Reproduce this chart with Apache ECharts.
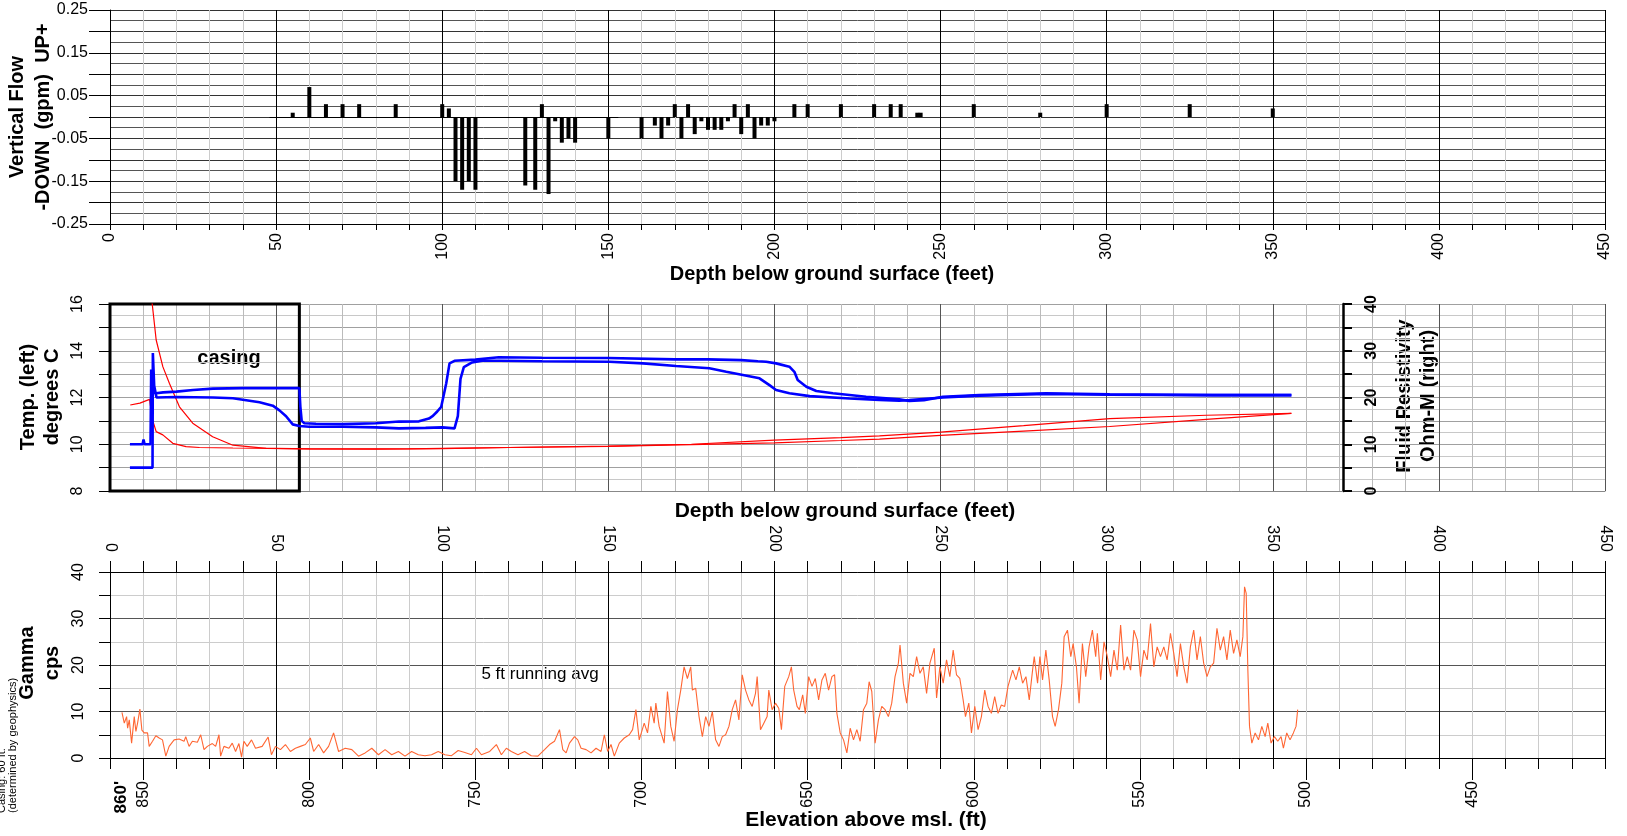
<!DOCTYPE html>
<html><head><meta charset="utf-8">
<script src="https://cdn.jsdelivr.net/npm/echarts@6/dist/echarts.min.js"></script>
<style>html,body{margin:0;padding:0;background:#fff}#c{width:1627px;height:836px}</style>
</head><body><div id="c"></div><script>
// ---------- DATA ----------
const depthRange = [0, 450];
// Vertical flow (gpm), + up / - down
const flowDepth = [55,60,65,70,75,86,100,102,104,106,108,110,125,128,130,132,134,136,138,140,150,160,164,166,168,170,172,174,176,178,180,182,184,186,188,190,192,194,196,198,200,206,210,220,230,235,238,243,244,260,280,300,325,350];
const flowGpm = [0.01,0.07,0.03,0.03,0.03,0.03,0.03,0.02,-0.15,-0.17,-0.15,-0.17,-0.16,-0.17,0.03,-0.18,-0.01,-0.06,-0.05,-0.06,-0.05,-0.05,-0.02,-0.05,-0.02,0.03,-0.05,0.03,-0.04,-0.01,-0.03,-0.03,-0.03,-0.01,0.03,-0.04,0.03,-0.05,-0.02,-0.02,-0.01,0.03,0.03,0.03,0.03,0.03,0.03,0.01,0.01,0.03,0.01,0.03,0.03,0.02];
// Temperature (deg C) - two logs
const temp1Depth = [6,8,9.8,10.1,10.4,12.2,12.4,12.6,13.2,13.9,16,20,25,31,40,50,57.0,57.3,57.7,58.5,62,70,80,87,93,96,97.2,98.5,99.7,101.2,102.2,103.7,110,117,130,150,170,180,190,195,197.5,200.5,204.5,206,207,209.6,212.6,217.6,227.6,237.6,240.6,245,250.7,261.7,281.8,300.9,331.9,355.6];
const temp1 = [10.0,10.0,10.0,10.2,10.0,10.0,13.2,12.4,12.2,12.18,12.22,12.25,12.32,12.38,12.4,12.4,12.4,11.6,11.0,10.9,10.88,10.86,10.9,10.97,10.98,11.1,11.21,11.4,11.6,12.6,13.46,13.57,13.62,13.72,13.7,13.69,13.63,13.63,13.6,13.55,13.53,13.46,13.32,13.1,12.75,12.46,12.28,12.18,12.03,11.92,11.85,11.88,12.03,12.1,12.18,12.14,12.1,12.1];
const temp2Depth = [6,12.8,12.9,13.3,14,20,31,37,45,49,51,53,55,57,60,70,80,87,95,100,103.7,104.2,104.7,105.5,106.5,109,112,117.2,130,150.3,160.4,170.4,180.4,185.5,190.5,195.5,198.5,200.5,204.5,210.6,222.6,231.6,237.6,240.6,250.7,261.7,281.8,300.9,331.9,355.6];
const temp2 = [9.0,9.0,13.9,12.5,12.0,12.02,12.0,11.97,11.8,11.65,11.45,11.2,10.85,10.78,10.75,10.75,10.72,10.68,10.7,10.72,10.68,10.7,11.2,12.8,13.3,13.5,13.57,13.57,13.55,13.53,13.46,13.35,13.25,13.1,12.96,12.82,12.53,12.32,12.18,12.06,11.96,11.9,11.86,11.89,12.0,12.08,12.15,12.12,12.1,12.1];
// Fluid resistivity (Ohm-m) - two logs
const res1Depth = [12.4,13.9,15.9,17.9,20.9,24.9,30.9,37,47,60,80,100,120,150,175,200,220,231.6,250,275,300.9,330,355.6];
const res1 = [42,32.3,26.6,23.0,18.0,14.5,11.6,9.8,9.1,9.0,9.0,9.05,9.3,9.6,10.0,10.9,11.4,11.8,12.6,14.0,15.5,16.2,16.6];
const res2Depth = [6.1,9,11.9,12.8,13.9,15.9,18.9,22.9,26.9,37,50,60,80,90,100,120,150,175,200,220,231.6,250,275,300.9,330,355.6];
const res2 = [18.4,18.8,19.6,15.2,12.7,12.0,10.2,9.5,9.3,9.2,9.1,9.0,8.95,9.0,9.1,9.3,9.55,9.9,10.3,10.8,11.1,11.9,12.8,13.8,15.3,16.6];
// Gamma (cps), 5 ft running average
const gammaDepth = [3.6,4.3,5.0,5.3,5.8,6.5,7.3,7.8,8.3,9.0,9.6,10.3,11.3,11.8,12.8,13.8,14.8,15.8,16.8,17.8,19.3,20.8,22.3,22.8,23.8,24.8,26.3,27.3,28.3,29.3,30.8,31.8,32.8,33.3,34.3,35.8,36.8,37.8,38.8,39.6,40.3,41.3,42.6,43.8,45.8,47.6,48.6,49.8,51.3,52.8,54.3,55.8,57.3,58.8,60.3,61.3,62.8,64.3,65.8,67.3,68.8,70.8,72.8,74.8,76.8,78.8,80.8,82.8,84.8,86.8,88.8,90.8,92.8,94.8,96.8,98.8,100.8,102.8,104.8,106.8,108.8,110.3,111.8,114.3,116.3,117.8,119.3,120.8,122.8,124.8,126.8,128.8,130.8,132.3,133.8,135.3,136.3,137.3,138.3,139.8,140.8,141.8,143.3,144.8,146.3,147.8,148.8,149.8,150.8,151.8,153.3,154.8,156.3,157.3,158.3,159.3,160.8,161.8,162.8,163.8,164.3,165.3,166.8,167.8,168.8,169.8,170.8,171.8,172.8,173.8,174.8,175.3,176.3,177.3,178.3,179.3,180.3,181.3,182.3,183.3,184.3,185.3,186.3,187.3,188.3,189.3,190.3,191.3,192.3,193.3,194.3,194.8,195.8,196.8,197.8,198.3,199.3,200.3,201.3,202.1,203.1,204.3,205.1,205.8,206.8,207.5,208.5,209.3,210.3,211.3,212.3,213.3,214.3,215.3,216.3,217.3,218.1,218.8,219.8,220.8,221.8,222.8,223.8,224.8,225.8,226.8,227.8,228.5,229.3,230.3,231.3,232.3,233.3,234.3,235.3,236.3,237.3,237.8,238.8,239.8,240.8,241.8,242.8,243.8,244.8,245.8,246.8,248.1,248.8,249.8,250.8,251.8,252.8,253.8,254.8,255.8,256.8,257.5,258.5,259.3,260.3,261.3,262.3,263.3,264.3,265.3,266.3,267.3,268.3,269.3,270.3,271.7,272.7,273.7,274.7,275.7,276.7,277.7,278.2,279.2,279.9,280.7,281.7,282.7,283.7,284.5,285.5,286.5,287.2,288.2,289.2,289.9,290.9,291.7,292.7,293.7,294.7,295.7,296.7,297.2,298.2,299.2,300.2,301.2,302.2,303.2,304.2,305.2,306.2,307.2,308.2,309.2,310.2,311.2,312.2,313.2,314.2,315.2,316.2,317.2,318.2,319.2,320.2,321.2,322.2,323.2,324.2,325.2,326.2,327.2,328.2,329.2,330.2,331.2,332.2,333.2,334.2,335.2,336.2,337.2,338.2,339.2,340.2,341.0,341.5,342.0,342.5,343.0,343.7,344.7,345.7,346.7,347.7,348.5,349.5,350.5,351.5,352.5,353.2,354.2,355.2,356.2,357.0,357.5];
const gammaCps = [9.8,7.5,8.9,6.4,8.2,3.2,8.9,5.7,7.5,10.5,6.0,5.4,5.4,2.5,3.6,4.8,4.3,3.9,0.4,2.5,3.9,4.1,3.6,4.6,2.5,3.6,3.4,5.0,1.8,2.5,3.1,2.5,5.0,0.4,2.5,2.1,3.2,1.4,3.1,0.2,3.6,2.5,3.9,2.1,2.5,4.5,0.7,2.5,1.8,2.9,1.4,2.1,2.5,2.9,4.3,1.4,2.9,1.1,2.5,5.4,1.4,2.1,1.8,0.4,1.1,2.1,0.7,1.8,0.7,1.4,0.4,1.4,0.7,0.5,0.7,1.4,0.7,0.5,1.6,1.2,0.7,2.1,0.7,1.4,2.9,0.7,2.1,1.4,0.7,1.4,0.5,0.4,1.8,2.9,3.6,6.1,1.8,1.1,3.2,4.6,3.9,2.1,1.8,1.1,2.1,1.4,5.0,1.4,2.9,0.4,3.2,4.3,5.0,6.1,10.4,3.9,7.5,5.4,11.1,7.5,11.8,6.8,3.2,14.3,6.8,3.6,10.4,14.6,19.6,17.1,19.6,14.6,15.0,8.9,4.6,8.9,6.8,10.0,3.9,2.5,4.6,5.0,6.8,10.4,12.5,8.2,17.9,14.6,12.5,11.1,13.9,17.5,6.1,7.5,8.9,14.6,10.4,11.8,10.7,6.1,15.4,17.5,19.6,14.6,11.1,10.4,13.6,9.6,17.5,15.4,17.1,12.5,16.8,18.2,14.6,17.5,17.9,9.6,5.4,3.9,1.1,6.4,3.9,6.1,3.6,10.4,11.8,16.4,14.3,3.2,8.2,11.1,10.4,8.9,11.8,17.5,20.4,24.3,16.1,11.8,18.2,17.5,21.8,18.2,19.6,13.9,20.4,23.6,12.9,19.6,16.1,21.1,17.5,23.2,17.9,17.1,12.5,8.9,11.8,5.4,11.1,6.1,8.9,14.6,11.1,9.6,13.2,9.6,11.4,11.1,15.4,18.9,16.8,19.6,16.1,17.5,12.5,18.9,21.8,16.1,21.8,16.8,23.2,16.8,8.9,6.8,10.4,16.1,26.1,27.5,21.8,24.6,19.6,11.8,24.6,17.5,23.9,27.5,21.8,26.8,16.8,25.0,21.8,17.5,23.2,18.9,28.6,18.9,21.8,18.9,27.5,25.4,17.5,23.2,21.1,28.9,19.6,23.9,21.8,23.9,21.1,26.8,22.5,17.5,24.6,19.6,16.1,23.9,27.5,21.1,26.1,20.4,17.5,19.6,20.4,27.9,23.2,26.1,21.1,27.5,22.5,25.4,21.8,26.1,36.8,35.4,18.9,6.8,3.2,5.4,3.9,6.8,4.6,7.5,3.2,4.6,3.6,4.6,2.1,5.4,3.9,5.4,6.8,10.4];
// Elevation labels: ground surface 860 ft msl
const groundElev = 860;
const groundLabelDepth = 3.5;
const elevTickDepths = [10,60,110,160,210,260,310,360,410];
const casingDepth = 57;

// ---------- CHART ----------
const FONT = '"Liberation Sans", Arial, Helvetica, sans-serif';
const pairs = (a, b) => a.map((v, i) => [v, b[i]]);
const L = 110, W = 1495;
const chart = echarts.init(document.getElementById('c'));
const vGrid = (major) => [major, '#cccccc', '#cccccc', '#cccccc', '#cccccc'];
const baseX = {type: 'value', min: depthRange[0], max: depthRange[1], interval: 10};
const lab = (o) => Object.assign({showMinLabel: true, showMaxLabel: true, hideOverlap: false, color: '#000', fontFamily: FONT, fontSize: 16}, o);

const option = {
  animation: false,
  backgroundColor: '#fff',
  textStyle: {fontFamily: FONT},
  grid: [
    {left: L, width: W, top: 10, height: 214},
    {left: L, width: W, top: 304, height: 187},
    {left: L, width: W, top: 572, height: 186}
  ],
  xAxis: [
    Object.assign({}, baseX, {gridIndex: 0, position: 'bottom',
      axisLine: {onZero: false, lineStyle: {color: '#000', width: 1}},
      axisTick: {length: 6, lineStyle: {color: '#000'}},
      axisLabel: lab({rotate: 90, margin: 9, formatter: v => (v % 50 === 0 ? String(v) : '')}),
      splitLine: {show: true, lineStyle: {color: vGrid('#000'), width: 1}}}),
    Object.assign({}, baseX, {gridIndex: 1, position: 'bottom',
      axisLine: {onZero: false, lineStyle: {color: '#888'}}, axisTick: {show: false}, axisLabel: {show: false},
      splitLine: {show: true, lineStyle: {color: ['#555', '#bbbbbb', '#bbbbbb', '#bbbbbb', '#bbbbbb']}}}),
    Object.assign({}, baseX, {gridIndex: 2, position: 'top',
      axisLine: {onZero: false, lineStyle: {color: '#000'}},
      axisTick: {length: 11, lineStyle: {color: '#000'}},
      axisLabel: lab({rotate: 90, margin: 20, formatter: v => (v % 50 === 0 ? String(v) : '')}),
      splitLine: {show: true, lineStyle: {color: vGrid('#000')}}}),
    Object.assign({}, baseX, {gridIndex: 2, position: 'bottom',
      axisLine: {onZero: false, lineStyle: {color: '#000'}},
      axisTick: {length: 11, lineStyle: {color: '#000'}},
      axisLabel: {show: false}, splitLine: {show: false}}),
    Object.assign({}, baseX, {gridIndex: 2, position: 'bottom',
      axisLine: {show: false, onZero: false},
      axisTick: {show: true, length: 22, customValues: elevTickDepths, lineStyle: {color: '#000'}},
      axisLabel: lab({customValues: [groundLabelDepth].concat(elevTickDepths), rotate: 90, margin: 23,
        formatter: v => (v === groundLabelDepth ? '{b|' + groundElev + "'}" : String(groundElev - v)),
        rich: {b: {fontWeight: 'bold', fontSize: 17, fontFamily: FONT, color: '#000'}}}),
      splitLine: {show: false}})
  ],
  yAxis: [
    {type: 'value', gridIndex: 0, min: -0.25, max: 0.25, interval: 0.05,
      axisLine: {show: true, onZero: false, lineStyle: {color: '#000'}},
      axisTick: {show: true, length: 21, lineStyle: {color: '#000'}},
      axisLabel: lab({margin: 22, formatter: v => (Math.abs(Math.round(v * 100)) % 10 === 5 ? v.toFixed(2) : '')}),
      splitLine: {show: true, lineStyle: {color: '#333'}},
      minorTick: {show: false, splitNumber: 2},
      minorSplitLine: {show: true, lineStyle: {color: '#555'}}},
    {type: 'value', gridIndex: 1, min: 8, max: 16, interval: 1,
      axisLine: {show: true, onZero: false, lineStyle: {color: '#000'}},
      axisTick: {show: true, length: 11, lineStyle: {color: '#000'}},
      axisLabel: lab({rotate: 90, margin: 24, formatter: v => (v % 2 === 0 ? String(v) : '')}),
      splitLine: {show: true, lineStyle: {color: '#a0a0a0'}},
      minorTick: {show: false, splitNumber: 2},
      minorSplitLine: {show: true, lineStyle: {color: '#c8c8c8'}}},
    {type: 'value', gridIndex: 1, min: 0, max: 40, interval: 5, position: 'right', offset: -262,
      axisLine: {show: true, onZero: false, lineStyle: {color: '#000', width: 2.5}},
      axisTick: {show: true, length: 9, lineStyle: {color: '#000', width: 2}},
      axisLabel: lab({rotate: 90, margin: 21, fontWeight: 'bold', formatter: v => (v % 10 === 0 ? String(v) : '')}),
      splitLine: {show: false}},
    {type: 'value', gridIndex: 2, min: 0, max: 40, interval: 5,
      axisLine: {show: true, onZero: false, lineStyle: {color: '#000'}},
      axisTick: {show: true, length: 11, lineStyle: {color: '#000'}},
      axisLabel: lab({rotate: 90, margin: 23, formatter: v => (v % 10 === 0 ? String(v) : '')}),
      splitLine: {show: true, lineStyle: {color: ['#555', '#cccccc']}}}
  ],
  series: [
    {type: 'bar', xAxisIndex: 0, yAxisIndex: 0, data: pairs(flowDepth, flowGpm), barWidth: 4,
      itemStyle: {color: '#000'}, z: 5,
      markLine: {silent: true, symbol: 'none', label: {show: false},
        lineStyle: {color: '#000', width: 1.2, type: 'solid'},
        data: [[{coord: [48, 0]}, {coord: [153, 0]}]]}},
    {type: 'line', xAxisIndex: 1, yAxisIndex: 1, data: pairs(temp1Depth, temp1), showSymbol: false,
      lineStyle: {color: '#0000ff', width: 2.6}, itemStyle: {color: '#0000ff'}, z: 4,
      markArea: {silent: true, itemStyle: {color: 'rgba(0,0,0,0)', borderColor: '#000', borderWidth: 3},
        data: [[{xAxis: 0}, {xAxis: casingDepth}]]}},
    {type: 'line', xAxisIndex: 1, yAxisIndex: 1, data: pairs(temp2Depth, temp2), showSymbol: false,
      lineStyle: {color: '#0000ff', width: 2.6}, z: 4},
    {type: 'line', xAxisIndex: 1, yAxisIndex: 2, data: pairs(res1Depth, res1), showSymbol: false,
      lineStyle: {color: '#ff0000', width: 1.2}, z: 3},
    {type: 'line', xAxisIndex: 1, yAxisIndex: 2, data: pairs(res2Depth, res2), showSymbol: false,
      lineStyle: {color: '#ff0000', width: 1.2}, z: 3},
    {type: 'line', xAxisIndex: 2, yAxisIndex: 3, data: pairs(gammaDepth, gammaCps), showSymbol: false,
      lineStyle: {color: '#ff6633', width: 1.1}, z: 3}
  ],
  graphic: [
    {type: 'text', x: 30, y: 117, rotation: Math.PI / 2,
      style: {text: 'Vertical Flow\n-DOWN  (gpm)  UP+', font: 'bold 20px ' + FONT, fill: '#000', textAlign: 'center', textVerticalAlign: 'middle', lineHeight: 26}},
    {type: 'text', x: 832, y: 274,
      style: {text: 'Depth below ground surface (feet)', font: 'bold 20px ' + FONT, fill: '#000', textAlign: 'center', textVerticalAlign: 'middle'}},
    {type: 'text', x: 40, y: 397, rotation: Math.PI / 2,
      style: {text: 'Temp. (left)\ndegrees C', font: 'bold 20px ' + FONT, fill: '#000', textAlign: 'center', textVerticalAlign: 'middle', lineHeight: 24}},
    {type: 'text', x: 1416, y: 396, rotation: Math.PI / 2,
      style: {text: 'Fluid Resistivity\nOhm-M (right)', font: 'bold 20px ' + FONT, fill: '#000', textAlign: 'center', textVerticalAlign: 'middle', lineHeight: 24}},
    {type: 'text', x: 229, y: 358,
      style: {text: 'casing', font: 'bold 20px ' + FONT, fill: '#000', textAlign: 'center', textVerticalAlign: 'middle'}},
    {type: 'text', x: 845, y: 511,
      style: {text: 'Depth below ground surface (feet)', font: 'bold 21px ' + FONT, fill: '#000', textAlign: 'center', textVerticalAlign: 'middle'}},
    {type: 'text', x: 40, y: 663, rotation: Math.PI / 2,
      style: {text: 'Gamma\ncps', font: 'bold 20px ' + FONT, fill: '#000', textAlign: 'center', textVerticalAlign: 'middle', lineHeight: 25}},
    {type: 'text', x: 540, y: 674,
      style: {text: '5 ft running avg', font: '17px ' + FONT, fill: '#000', textAlign: 'center', textVerticalAlign: 'middle'}},
    {type: 'text', x: 7, y: 813, rotation: Math.PI / 2,
      style: {text: 'Casing: 60 ft.\n(determined by geophysics)', font: '11px ' + FONT, fill: '#000', textAlign: 'left', textVerticalAlign: 'middle', lineHeight: 11}},
    {type: 'text', x: 866, y: 820,
      style: {text: 'Elevation above msl. (ft)', font: 'bold 21px ' + FONT, fill: '#000', textAlign: 'center', textVerticalAlign: 'middle'}}
  ]
};
chart.setOption(option);
</script></body></html>
